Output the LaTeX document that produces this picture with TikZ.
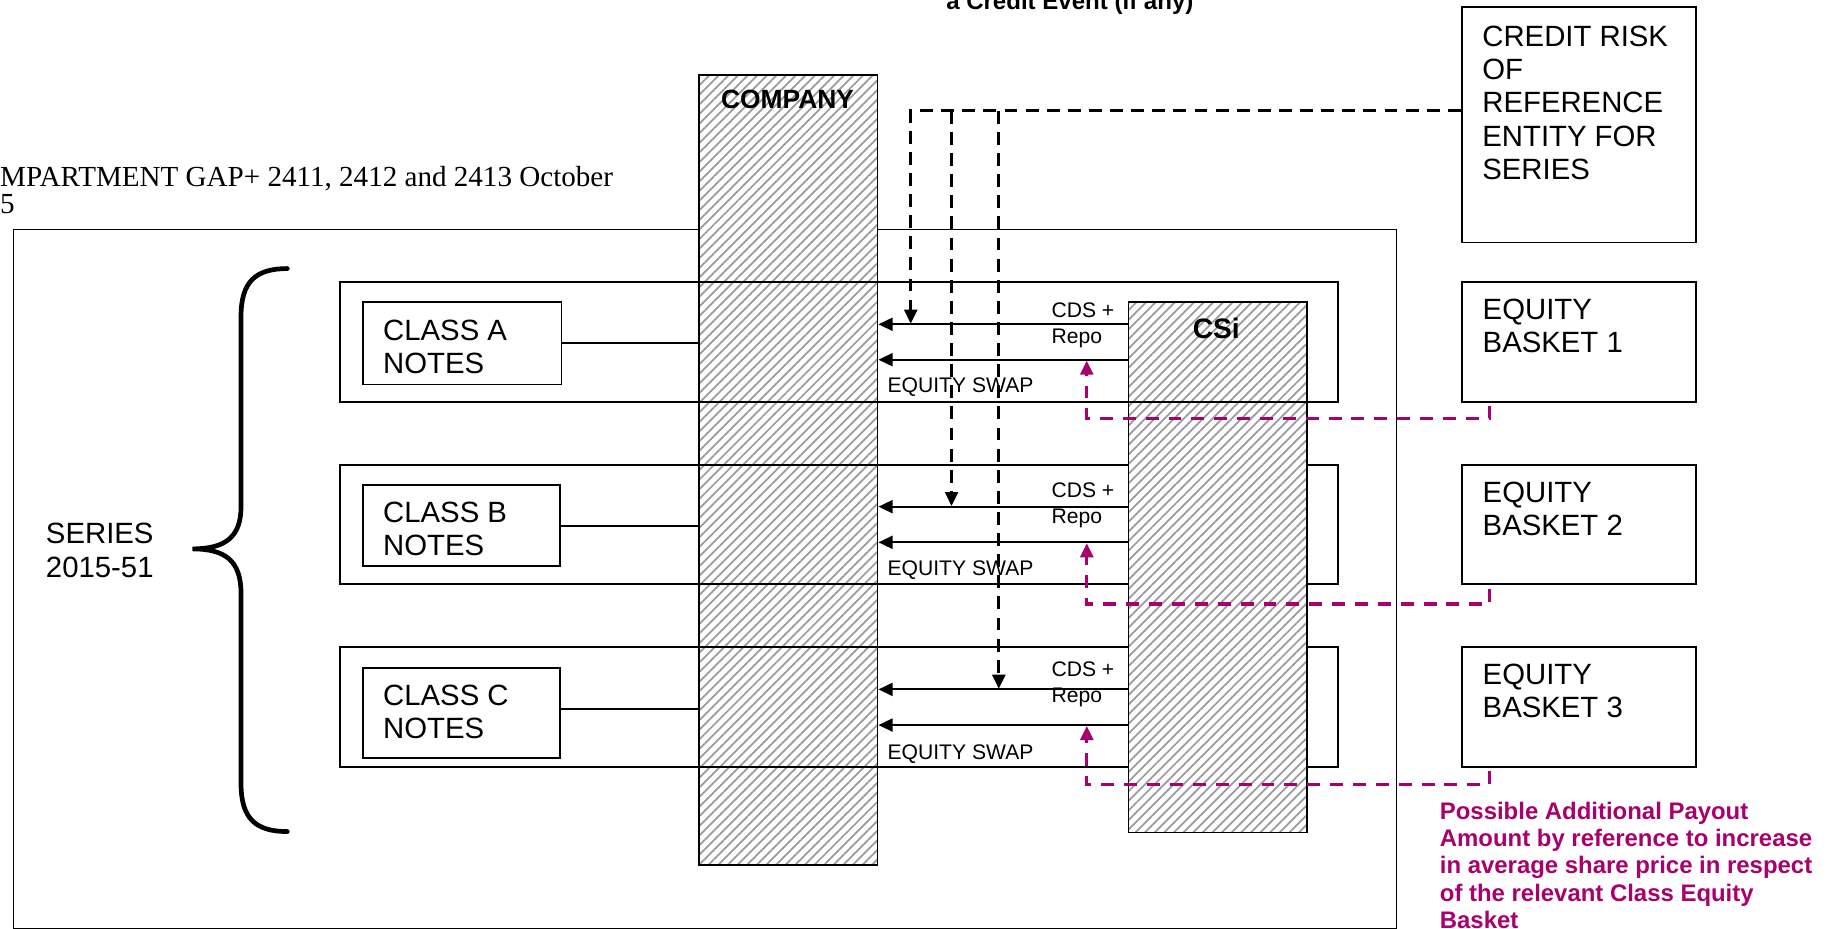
\documentclass[tikz,border=0pt]{standalone}
\usepackage{fontspec}
\setmainfont{Liberation Sans}
\newfontfamily\timesfont{Liberation Serif}
\usetikzlibrary{arrows.meta,patterns.meta}
\definecolor{payout}{RGB}{168,0,108}
\definecolor{hatchgray}{RGB}{155,155,155}
\begin{document}
\begin{tikzpicture}[x=1pt,y=-1pt,
  box/.style={draw,line width=1.5pt,inner sep=0pt,anchor=north west},
  hatched/.style={box,preaction={fill=white},pattern={Lines[angle=45,distance=5.8pt,line width=1.5pt]},pattern color=hatchgray},
  big/.style={font=\fontsize{25}{28.3}\selectfont,align=left,anchor=base west,inner sep=0pt},
  small/.style={font=\fontsize{18}{20}\selectfont,anchor=base west,inner sep=0pt},
  bold/.style={font=\fontsize{23}{26}\selectfont\bfseries,anchor=base,inner sep=0pt},
  flow/.style={line width=1.8pt,-{Triangle[length=12pt,width=11pt]}},
  cds/.style={line width=2.3pt,dash pattern=on 11pt off 7pt,-{Triangle[length=12pt,width=11pt]}},
  pay/.style={color=payout,line width=2.6pt,dash pattern=on 11pt off 8.5pt,-{Triangle[length=12pt,width=11pt]}},
  brace/.style={line width=4pt,line cap=round}
]
\useasboundingbox (0,0) rectangle (1568,792);

% outer compartment box
\node[box,line width=1pt,minimum width=1179pt,minimum height=596pt] (compartment) at (11,195) {};
% multi-line nodes: base anchor = baseline of the last line
\node[anchor=base west,inner sep=0pt,font=\timesfont\fontsize{24.8}{23}\selectfont,align=left] (title) at (0,181.8) {MPARTMENT GAP+ 2411, 2412 and 2413 October\\5};
\node[anchor=base west,inner sep=0pt,font=\fontsize{20.5}{23}\selectfont\bfseries] (event) at (806.6,8.5) {a Credit Event (if any)};

% company
\node[hatched,minimum width=152pt,minimum height=674pt] (company) at (595.5,63) {};
\node[bold,font=\fontsize{22.5}{26}\selectfont\bfseries] (companylbl) at (671.5,92.8) {COMPANY};

% rows B and C (under CSi)
\node[box,minimum width=851pt,minimum height=102pt] (rowB) at (289,395.5) {};
\node[box,minimum width=851pt,minimum height=102pt] (rowC) at (289,551) {};

% CSi
\node[hatched,minimum width=152pt,minimum height=452pt] (csi) at (961.5,257) {};
\node[bold,font=\fontsize{24}{26}\selectfont\bfseries] (csilbl) at (1037,289) {CSi};

% row A (over CSi)
\node[box,minimum width=851pt,minimum height=102pt] (rowA) at (289,240) {};

% class notes boxes
\node[box,minimum width=169pt,minimum height=70pt] (classA) at (309,257) {};
\node[box,minimum width=168pt,minimum height=69pt] (classB) at (309,413) {};
\node[box,minimum width=168pt,minimum height=77pt] (classC) at (309,568.5) {};
\node[big] (classAt) at (326.5,318.7) {CLASS A\\NOTES};
\node[big] (classBt) at (326.5,473.6) {CLASS B\\NOTES};
\node[big] (classCt) at (326.5,629.9) {CLASS C\\NOTES};

% right-hand boxes
\node[box,minimum width=200pt,minimum height=200.5pt] (credit) at (1245.5,5.5) {};
\node[big] (creditt) at (1263.7,152.9) {CREDIT RISK\\OF\\REFERENCE\\ENTITY FOR\\SERIES};
\node[box,minimum width=200pt,minimum height=102pt] (basket1) at (1245.5,240) {};
\node[box,minimum width=200pt,minimum height=102pt] (basket2) at (1245.5,395.5) {};
\node[box,minimum width=200pt,minimum height=102pt] (basket3) at (1245.5,551) {};
\node[big] (basket1t) at (1264,300.8) {EQUITY\\BASKET 1};
\node[big] (basket2t) at (1264,456.5) {EQUITY\\BASKET 2};
\node[big] (basket3t) at (1264,612) {EQUITY\\BASKET 3};

% series
\node[big] (series) at (39,492.1) {SERIES\\2015-51};

% small labels
\node[small] (cdsA) at (896.4,270.7) {CDS +};
\node[small] (repoA) at (896.4,292.9) {Repo};
\node[small] (swapA) at (756.6,334.7) {EQUITY SWAP};
\node[small] (cdsB) at (896.4,424.2) {CDS +};
\node[small] (repoB) at (896.4,446.1) {Repo};
\node[small] (swapB) at (756.6,491) {EQUITY SWAP};
\node[small] (cdsC) at (896.4,577.1) {CDS +};
\node[small] (repoC) at (896.4,599) {Repo};
\node[small] (swapC) at (756.6,647.3) {EQUITY SWAP};

% payout text
\node[anchor=base west,inner sep=0pt,align=left,text=payout,font=\fontsize{20.4}{23.3}\selectfont\bfseries] (payoutt) at (1227.5,791.7)
  {Possible Additional Payout\\Amount by reference to increase\\in average share price in respect\\of the relevant Class Equity\\Basket};

% notes to company connectors
\draw[line width=1.5pt] (classA.east |- 0,292.7) -- (company.west |- 0,292.7);
\draw[line width=1.5pt] (classB.east |- 0,448.2) -- (company.west |- 0,448.2);
\draw[line width=1.5pt] (classC.east |- 0,604.3) -- (company.west |- 0,604.3);

% CSi to company arrows
\draw[flow] (csi.west |- 0,276.5) -- (company.east |- 0,276.5);
\draw[flow] (csi.west |- 0,306.7) -- (company.east |- 0,306.7);
\draw[flow] (csi.west |- 0,432) -- (company.east |- 0,432);
\draw[flow] (csi.west |- 0,462.4) -- (company.east |- 0,462.4);
\draw[flow] (csi.west |- 0,587.8) -- (company.east |- 0,587.8);
\draw[flow] (csi.west |- 0,618.2) -- (company.east |- 0,618.2);

% credit event dashed lines
\coordinate (cA) at (776.5,276);
\coordinate (cB) at (811.3,431.5);
\coordinate (cC) at (851.6,587.3);
\draw[cds] (credit.west |- 0,94.5) -| (cA);
\draw[cds] (cB |- 0,94.5) -- (cB);
\draw[cds] (cC |- 0,94.5) -- (cC);

% payout dashed lines
\draw[pay] ([xshift=24.8pt,yshift=-3pt]basket1.south west) |- (926.6,356.5) -- (926.6,307.5);
\draw[pay] ([xshift=24.8pt,yshift=-3pt]basket2.south west) |- (926.6,515) -- (926.6,463.2);
\draw[pay] ([xshift=24.8pt,yshift=-3pt]basket3.south west) |- (926.6,668.8) -- (926.6,619);

% brace
\draw[brace] (245,229) .. controls (218,229) and (205.5,240) .. (205.5,270)
  -- (205.5,432) .. controls (205.5,458) and (192,468) .. (164,468)
  .. controls (192,468) and (205.5,478) .. (205.5,506)
  -- (205.5,668) .. controls (205.5,698) and (218,709) .. (245,709);
\end{tikzpicture}
\end{document}
